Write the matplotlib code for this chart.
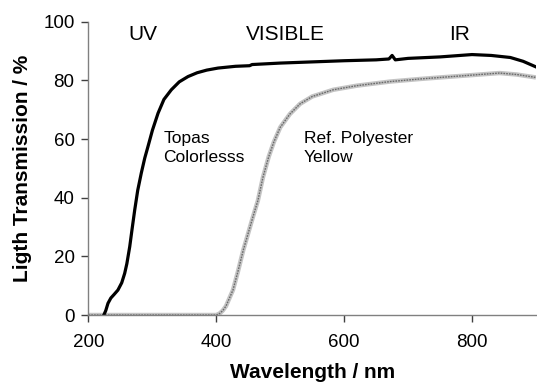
import matplotlib
matplotlib.use("Agg")
import matplotlib.pyplot as plt

plt.rcParams['font.family'] = ['Liberation Sans', 'DejaVu Sans']

# Topas Colorless (black curve)
topas_nm = [224, 227, 230.5, 235, 240, 246, 252, 256.6, 260, 264.5, 268, 272.3, 277, 282.6,
            288, 293, 300, 308.8, 318, 329.6, 342, 355.7, 370, 385, 402.7, 430, 452, 456,
            500, 550, 600, 650, 670, 675, 680, 700, 750, 800, 830, 860, 880, 900]
topas_t = [0, 1.5, 4.0, 5.8, 7.0, 8.5, 11, 14.2, 17.5, 23.3, 29, 35.8, 42.5, 48.4,
           53.5, 57.4, 63, 68.8, 73.5, 76.8, 79.5, 81.3, 82.6, 83.5, 84.2, 84.8, 85.0, 85.4,
           85.9, 86.3, 86.7, 87.0, 87.3, 88.5, 87.0, 87.5, 88.0, 88.8, 88.5, 87.8, 86.5, 84.6]

# Ref. Polyester Yellow (grey curve)
poly_nm = [200, 300, 400, 405, 410, 415, 420, 426, 434, 442, 450, 458, 465, 473, 482, 490,
           500, 515, 531, 550, 583, 620, 672, 720, 750, 800, 843, 870, 885, 900]
poly_t = [0, 0, 0, 0.5, 1.5, 3, 5.5, 8.5, 15, 22, 28, 34, 39, 47, 54, 59,
          64, 68.5, 72, 74.5, 76.8, 78.2, 79.6, 80.5, 81, 81.8, 82.5, 82, 81.5, 81]

region_labels = ['UV', 'VISIBLE', 'IR']
region_x = [285, 508, 781]

fig = plt.figure(figsize=(5.37, 3.83), dpi=100)
ax = fig.add_axes([0.1648, 0.1775, 0.8332, 0.7658])

ax.plot(poly_nm, poly_t, color='#c4c4c4', lw=3.2, solid_capstyle='butt')
ax.plot(poly_nm, poly_t, color='#6a6a6a', lw=1.0, dashes=(1.2, 0.8))
ax.plot(topas_nm, topas_t, color='black', lw=2.3, solid_joinstyle='round')

ax.set_xlim(200, 900)
ax.set_ylim(0, 100)
ax.set_xticks([200, 400, 600, 800])
ax.set_yticks([0, 20, 40, 60, 80, 100])

for s in ['top', 'right']:
    ax.spines[s].set_visible(False)
for s in ['left', 'bottom']:
    ax.spines[s].set_color('#808080')
    ax.spines[s].set_linewidth(1.0)
ax.tick_params(axis='both', direction='out', length=5, width=1, color='#404040',
               labelsize=13.5)
ax.tick_params(axis='x', pad=9)
ax.tick_params(axis='y', pad=5)

ax.set_xlabel('Wavelength / nm', fontsize=15, fontweight='bold')
ax.set_ylabel('Ligth Transmission / %', fontsize=15, fontweight='bold')
ax.xaxis.set_label_coords(0.5, -0.165)
ax.yaxis.set_label_coords(-0.127, 0.5)

for lab, x in zip(region_labels, region_x):
    ax.text(x, 95.5, lab, fontsize=15, ha='center', va='center')

ax.text(317, 57.0, 'Topas\nColorlesss', fontsize=12.5, ha='left', va='center', linespacing=1.3)
ax.text(537, 57.0, 'Ref. Polyester\nYellow', fontsize=12.5, ha='left', va='center', linespacing=1.3)

fig.savefig('out.png', dpi=100)
